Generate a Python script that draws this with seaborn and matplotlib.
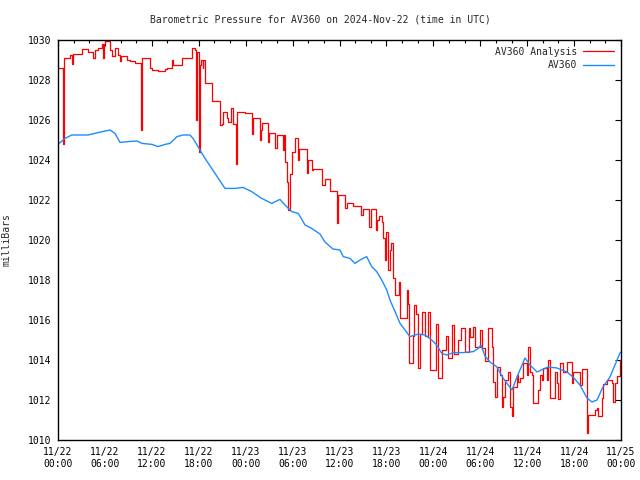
import numpy as np
import pandas as pd
import matplotlib
matplotlib.use("Agg")
import matplotlib.pyplot as plt
import seaborn as sns

# ---- data (hours since 11/22 00:00 UTC, pressure in mBar) ----
analysis_hours = [0.0, 0.65, 0.72, 0.8, 1.53, 1.75, 1.96, 3.03, 3.88, 4.52, 4.73, 5.16, 5.58, 5.8, 5.9,
                  6.01, 6.65, 6.86, 7.29, 7.71, 7.92, 8.05, 8.78, 9.21, 9.85, 10.61, 10.7, 10.79, 11.77,
                  11.98, 12.83, 13.68, 13.9, 14.54, 14.75, 15.81, 17.1, 17.52, 17.7, 17.8, 18.0, 18.1,
                  18.35, 18.5, 18.6, 18.8, 19.65, 20.72, 20.93, 21.14, 21.57, 21.78, 22.12, 22.42, 22.76,
                  22.9, 23.9, 24.77, 24.9, 25.83, 25.95, 26.05, 26.8, 26.98, 27.75, 27.96, 28.81, 28.9,
                  29.03, 29.24, 29.45, 29.67, 29.88, 30.31, 30.73, 30.85, 31.8, 32.01, 32.44, 32.55,
                  33.72, 34.14, 34.78, 35.64, 35.85, 36.7, 36.9, 37.76, 38.7, 38.96, 39.8, 40.0, 40.67,
                  40.84, 41.1, 41.4, 41.6, 41.8, 42.0, 42.2, 42.45, 42.65, 42.8, 43.1, 43.65, 43.8, 44.6,
                  44.8, 44.9, 45.35, 45.5, 45.8, 46.1, 46.3, 46.6, 46.9, 47.35, 47.6, 48.4, 48.6, 49.05,
                  49.6, 49.9, 50.35, 50.65, 51.2, 51.6, 52.05, 52.5, 52.7, 53.1, 53.3, 53.97, 54.18,
                  54.6, 55.03, 55.46, 55.67, 55.88, 56.1, 56.52, 56.74, 56.95, 57.16, 57.59, 57.8, 58.02,
                  58.23, 58.66, 58.87, 59.08, 59.51, 59.94, 60.15, 60.36, 60.58, 60.79, 61.42, 61.64,
                  61.86, 62.07, 62.5, 62.7, 62.92, 63.56, 63.77, 63.98, 64.2, 64.62, 65.05, 65.69, 65.9,
                  66.75, 66.97, 67.61, 67.82, 68.67, 68.89, 69.1, 69.53, 69.74, 70.17, 70.8, 71.02,
                  71.23, 71.44, 71.87, 72.0]
analysis_mbar = [1028.6, 1024.8, 1026.2, 1029.1, 1029.25, 1028.8, 1029.3, 1029.55, 1029.4, 1029.1, 1029.5,
                 1029.6, 1029.8, 1029.1, 1029.8, 1029.95, 1029.5, 1029.2, 1029.6, 1029.25, 1028.95,
                 1029.2, 1029.0, 1028.95, 1028.85, 1025.5, 1026.5, 1029.1, 1028.6, 1028.5, 1028.45,
                 1028.55, 1028.6, 1029.0, 1028.75, 1029.1, 1029.6, 1029.5, 1026.0, 1029.4, 1024.4,
                 1028.75, 1029.0, 1028.6, 1029.0, 1027.85, 1026.95, 1025.75, 1025.8, 1026.4, 1026.1,
                 1025.9, 1026.6, 1025.8, 1023.8, 1026.4, 1026.35, 1025.3, 1026.1, 1025.0, 1025.5,
                 1025.85, 1024.9, 1025.35, 1024.6, 1025.25, 1024.5, 1025.25, 1023.9, 1022.9, 1021.5,
                 1023.3, 1024.4, 1025.1, 1024.0, 1024.55, 1023.35, 1024.0, 1023.5, 1023.55, 1022.75,
                 1023.05, 1022.45, 1020.85, 1022.25, 1021.6, 1021.87, 1021.7, 1021.25, 1021.53,
                 1020.67, 1021.53, 1020.5, 1021.0, 1021.2, 1020.9, 1020.1, 1019.0, 1020.4, 1018.5,
                 1019.5, 1019.85, 1018.1, 1017.25, 1017.9, 1016.1, 1017.5, 1016.8, 1013.85, 1015.2,
                 1016.75, 1016.3, 1013.6, 1015.3, 1016.4, 1015.2, 1016.4, 1013.5, 1015.8, 1013.1,
                 1014.5, 1015.2, 1014.1, 1015.75, 1014.3, 1015.0, 1015.6, 1014.4, 1015.6, 1015.15,
                 1015.65, 1014.65, 1015.5, 1014.6, 1013.95, 1015.6, 1014.65, 1012.9, 1012.15, 1013.65,
                 1013.25, 1011.65, 1012.15, 1013.0, 1013.4, 1011.65, 1011.2, 1012.65, 1013.25, 1012.9,
                 1013.1, 1013.85, 1013.25, 1014.65, 1013.4, 1013.25, 1011.85, 1012.5, 1013.25, 1013.0,
                 1013.6, 1013.0, 1014.0, 1012.1, 1013.4, 1012.85, 1012.05, 1013.85, 1013.4, 1013.9,
                 1012.85, 1013.4, 1012.75, 1013.55, 1010.35, 1011.25, 1011.5, 1011.6, 1011.2, 1012.1,
                 1012.8, 1013.0, 1012.85, 1011.9, 1012.85, 1013.2, 1014.0, 1013.2]

station_hours = [0.0, 0.9, 1.75, 3.84, 5.12, 6.65, 7.29, 7.93, 8.95, 10.1, 10.74, 12.02, 12.79, 13.68,
                 14.32, 15.22, 15.99, 16.88, 17.27, 17.78, 18.16, 18.8, 19.66, 20.5, 21.36, 22.64, 23.66,
                 24.77, 26.05, 27.33, 28.39, 29.03, 29.89, 30.73, 31.59, 32.44, 33.5, 34.14, 35.17,
                 36.06, 36.48, 37.34, 37.98, 38.62, 39.47, 40.12, 40.76, 41.4, 42.04, 42.46, 43.1,
                 43.74, 44.38, 45.01, 46.08, 46.93, 47.79, 48.43, 49.07, 49.71, 50.55, 51.83, 53.11,
                 53.75, 54.09, 54.6, 55.24, 56.14, 56.91, 58.06, 58.7, 59.72, 60.36, 61.26, 62.66,
                 63.81, 65.09, 65.86, 66.75, 67.65, 68.29, 68.93, 69.69, 70.59, 71.87, 72.0]
station_mbar = [1024.78, 1025.08, 1025.25, 1025.25, 1025.37, 1025.5, 1025.33, 1024.88, 1024.92, 1024.95,
                1024.83, 1024.78, 1024.67, 1024.78, 1024.83, 1025.17, 1025.25, 1025.25, 1025.08,
                1024.75, 1024.5, 1024.08, 1023.58, 1023.08, 1022.58, 1022.58, 1022.63, 1022.42,
                1022.08, 1021.83, 1022.03, 1021.75, 1021.42, 1021.33, 1020.75, 1020.58, 1020.3,
                1019.9, 1019.55, 1019.5, 1019.17, 1019.08, 1018.83, 1019.0, 1019.17, 1018.67, 1018.42,
                1018.0, 1017.5, 1017.0, 1016.42, 1015.83, 1015.5, 1015.17, 1015.3, 1015.25, 1015.0,
                1014.75, 1014.33, 1014.25, 1014.37, 1014.37, 1014.42, 1014.58, 1014.75, 1014.2,
                1013.9, 1013.65, 1013.1, 1012.5, 1013.15, 1014.1, 1013.75, 1013.4, 1013.65, 1013.6,
                1013.4, 1013.15, 1012.75, 1012.1, 1011.9, 1012.0, 1012.65, 1013.15, 1014.35, 1014.4]

tick_hours = [0, 6, 12, 18, 24, 30, 36, 42, 48, 54, 60, 66, 72]
tick_labels = ["11/22\n00:00", "11/22\n06:00", "11/22\n12:00", "11/22\n18:00",
               "11/23\n00:00", "11/23\n06:00", "11/23\n12:00", "11/23\n18:00",
               "11/24\n00:00", "11/24\n06:00", "11/24\n12:00", "11/24\n18:00",
               "11/25\n00:00"]
y_ticks = [1010, 1012, 1014, 1016, 1018, 1020, 1022, 1024, 1026, 1028, 1030]

title = "Barometric Pressure for AV360 on 2024-Nov-22 (time in UTC)"
series_names = ["AV360 Analysis", "AV360"]

sns.set_style("white")
plt.rcParams['font.family'] = ['DejaVu Sans Mono']
plt.rcParams['font.size'] = 7

df_a = pd.DataFrame({"hour": analysis_hours, "mbar": analysis_mbar})
df_s = pd.DataFrame({"hour": station_hours, "mbar": station_mbar})

fig = plt.figure(figsize=(6.4, 4.8), dpi=100)
ax = fig.add_axes([58/640, 1 - 440/480, (621-58)/640, 400/480])

sns.lineplot(data=df_a, x="hour", y="mbar", ax=ax, color="#ff0000", lw=0.9,
             drawstyle="steps-post", label=series_names[0], estimator=None)
sns.lineplot(data=df_s, x="hour", y="mbar", ax=ax, color="#1E8CFF", lw=1.0,
             label=series_names[1], estimator=None)

ax.set_xlim(0, 72)
ax.set_ylim(1010, 1030)
ax.set_xticks(tick_hours)
ax.set_xticklabels(tick_labels)
ax.set_xticks(np.arange(0, 73, 2), minor=True)
ax.set_yticks(y_ticks)
ax.set_yticklabels([str(v) for v in y_ticks])
ax.set_xlabel("")
ax.set_ylabel("milliBars", fontsize=7)
ax.yaxis.set_label_coords(-0.083, 0.5)
for s in ax.spines.values():
    s.set_color("black")
    s.set_linewidth(1.0)
ax.tick_params(axis="both", which="both", direction="in", top=True, right=True,
               color="black", width=0.8)
ax.tick_params(axis="both", which="major", length=4, labelsize=7, colors="black")
ax.tick_params(axis="x", which="major", pad=5)
ax.tick_params(axis="y", which="major", pad=5)
ax.tick_params(axis="both", which="minor", length=2.5)
ax.grid(False)

fig.text(0.5, 1 - 19/480, title, ha="center", va="center", fontsize=7)

leg = ax.legend(loc="upper right", frameon=False, markerfirst=False, handlelength=3.2,
                fontsize=7, borderaxespad=0.3, labelspacing=0.35, handletextpad=0.6)
for t in leg.get_texts():
    t.set_ha("right")

fig.savefig("out.png", dpi=100, facecolor="white")
